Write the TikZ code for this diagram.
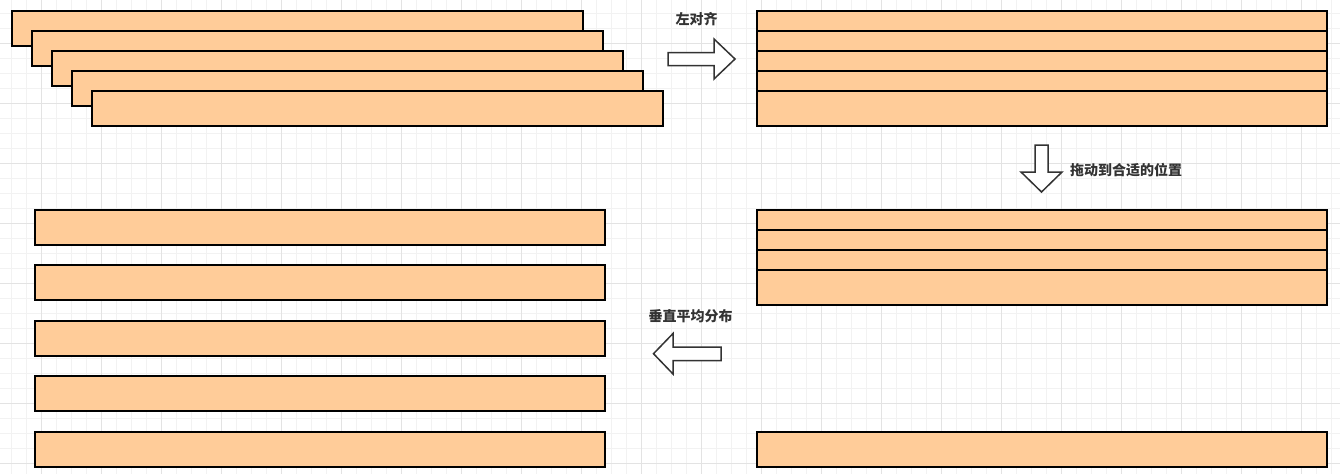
\documentclass[tikz,border=0pt]{standalone}
\usepackage{fontspec}
\newfontfamily\cjk{Noto Sans CJK SC}
\definecolor{barfill}{HTML}{FFCC99}
\definecolor{txt}{HTML}{333333}
\definecolor{gminor}{HTML}{F2F2F2}
\definecolor{gmajor}{HTML}{E3E3E3}
\begin{document}
\begin{tikzpicture}[x=1pt,y=-1pt,
  bar/.style={draw=black,line width=2pt,fill=barfill,inner sep=0pt,outer sep=0pt,anchor=north west,minimum height=35pt},
  barA/.style={bar,minimum width=571pt},
  barB/.style={bar,minimum width=570pt},
  bigarrow/.style={draw=txt,line width=1.5pt,fill=white,line join=miter},
  lbl/.style={font=\cjk\bfseries\fontsize{14}{16}\selectfont,text=txt,inner sep=0pt}]
\useasboundingbox (0,0) rectangle (1340,474);
\fill[white] (0,0) rectangle (1340,474);
% grid
\foreach \k in {0,...,88} \draw[gminor,line width=1pt] (11.7+15*\k,0) -- (11.7+15*\k,474);
\foreach \k in {0,...,30} \draw[gminor,line width=1pt] (0,13.7+15*\k) -- (1340,13.7+15*\k);
\foreach \k in {2,6,...,86} \draw[gmajor,line width=1pt] (11.7+15*\k,0) -- (11.7+15*\k,474);
\foreach \k in {2,6,...,30} \draw[gmajor,line width=1pt] (0,13.7+15*\k) -- (1340,13.7+15*\k);
% stack 1 (unaligned)
\node[barA] (a1) at (12,11) {};
\node[barA] (a2) at (32,31) {};
\node[barA] (a3) at (52,51) {};
\node[barA] (a4) at (72,71) {};
\node[barA] (a5) at (92,91) {};
% stack 2 (left aligned)
\node[barB] (b1) at (757,11) {};
\node[barB] (b2) at (757,31) {};
\node[barB] (b3) at (757,51) {};
\node[barB] (b4) at (757,71) {};
\node[barB] (b5) at (757,91) {};
% stack 3 (moved)
\node[barB] (c1) at (757,210) {};
\node[barB] (c2) at (757,230) {};
\node[barB] (c3) at (757,250) {};
\node[barB] (c4) at (757,270) {};
\node[barB] (c5) at (757,432) {};
% stack 4 (distributed)
\node[barB] (d1) at (35,210) {};
\node[barB] (d2) at (35,265) {};
\node[barB] (d3) at (35,321) {};
\node[barB] (d4) at (35,376) {};
\node[barB] (d5) at (35,432) {};
% arrows
\draw[bigarrow] (668,52.5) -- (714,52.5) -- (714,39) -- (735,59) -- (714,79) -- (714,65.5) -- (668,65.5) -- cycle;
\draw[bigarrow] (1035,145) -- (1048,145) -- (1048,172) -- (1062,172) -- (1041.5,192) -- (1021,172) -- (1035,172) -- cycle;
\draw[bigarrow] (721,347) -- (673,347) -- (673,333.5) -- (653.5,353.7) -- (673,374) -- (673,360.5) -- (721,360.5) -- cycle;
% labels
\node[lbl] (l1) at (696.5,19) {左对齐};
\node[lbl,anchor=west] (l2) at (1070,170) {拖动到合适的位置};
\node[lbl] (l3) at (690.5,316) {垂直平均分布};
\end{tikzpicture}
\end{document}
